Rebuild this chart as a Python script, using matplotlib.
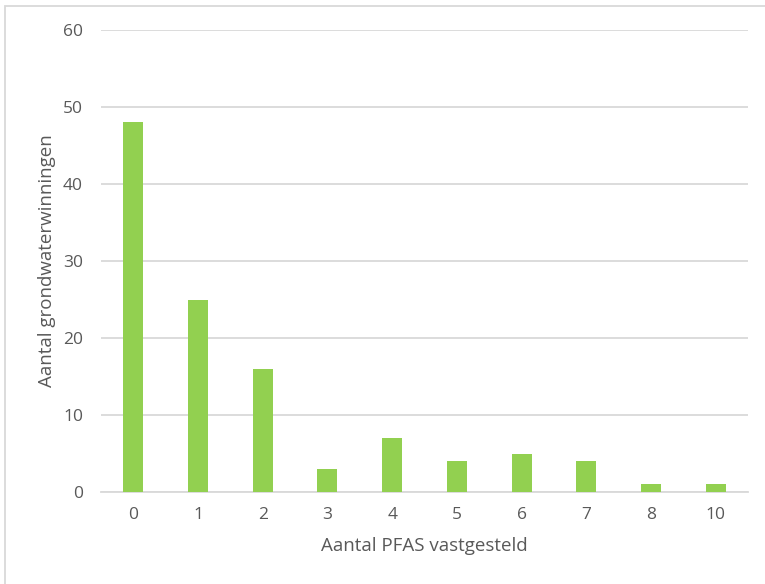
import matplotlib
matplotlib.use("Agg")
import matplotlib.pyplot as plt
from matplotlib.patches import Rectangle

categories = ["0", "1", "2", "3", "4", "5", "6", "7", "8", "10"]
values = [48, 25, 16, 3, 7, 4, 5, 4, 1, 1]
yticks = [0, 10, 20, 30, 40, 50, 60]

W, H = 765, 584
fig = plt.figure(figsize=(W / 100, H / 100), dpi=100)
plt.rcParams["font.family"] = ["Open Sans", "DejaVu Sans"]

ax = fig.add_axes([101 / W, (H - 492) / H, (748 - 101) / W, (492 - 30) / H])
x = list(range(len(categories)))
ax.bar(x, values, width=0.31, color="#92D050", zorder=3)

ax.set_xlim(-0.5, len(categories) - 0.5)
ax.set_ylim(0, 60)
ax.set_yticks(yticks)
ax.set_xticks(x)
ax.set_xticklabels(categories)
ax.grid(axis="y", color="#D9D9D9", linewidth=1.3, zorder=0)
for s in ["top", "right", "left"]:
    ax.spines[s].set_visible(False)
ax.spines["bottom"].set_color("#D9D9D9")
ax.spines["bottom"].set_linewidth(1.3)
ax.tick_params(length=0, colors="#595959", labelsize=12.5)
ax.tick_params(axis="y", pad=13)
ax.tick_params(axis="x", pad=11)

ax.set_ylabel("Aantal grondwaterwinningen", fontsize=13.5, color="#595959")
ax.yaxis.set_label_coords(-0.07, 0.5)
ax.set_xlabel("Aantal PFAS vastgesteld", fontsize=13.5, color="#595959", labelpad=10)

# chart frame
fig.patches.append(Rectangle((5 / W, -0.1), 1.2, (H - 6) / H + 0.1,
                             transform=fig.transFigure, fill=False,
                             edgecolor="#D9D9D9", linewidth=1.3, clip_on=False))

fig.savefig("out.png", dpi=100, facecolor="white")
